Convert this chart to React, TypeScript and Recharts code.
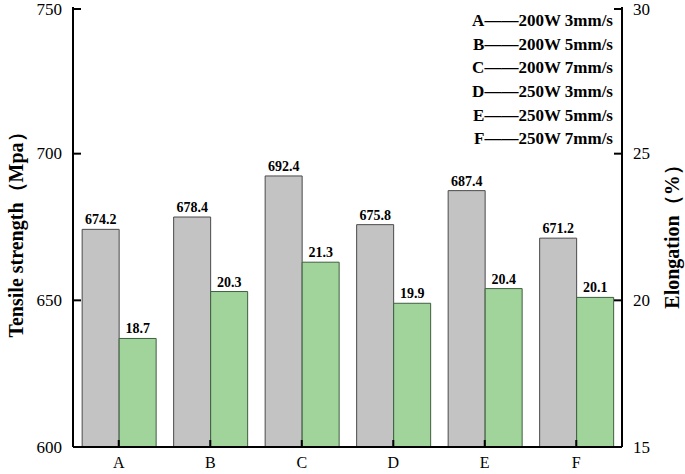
import React from "react";
import {
  BarChart,
  Bar,
  XAxis,
  YAxis,
  LabelList,
  Legend,
} from "recharts";

const categories = ["A", "B", "C", "D", "E", "F"];
const tensileStrength = [674.2, 678.4, 692.4, 675.8, 687.4, 671.2];
const elongation = [18.7, 20.3, 21.3, 19.9, 20.4, 20.1];
const leftTicks = [600, 650, 700, 750];
const rightTicks = [15, 20, 25, 30];
const legendLines = [
  "A——200W 3mm/s",
  "B——200W 5mm/s",
  "C——200W 7mm/s",
  "D——250W 3mm/s",
  "E——250W 5mm/s",
  "F——250W 7mm/s",
];

const data = categories.map((name, i) => ({
  name,
  tensile: tensileStrength[i],
  elong: elongation[i],
}));

const FONT = '"Liberation Serif", "Times New Roman", serif';
const GAP = 11; // label distance from the axis line
const TICK = 8; // inward tick length

// ticks are drawn inside the plot, so draw line + label ourselves
const LeftTick = (props: any) => {
  const { x, y, payload } = props;
  return (
    <g>
      <line x1={x + GAP} x2={x + GAP + TICK} y1={y} y2={y} stroke="#000" strokeWidth={2} />
      <text x={x} y={y} textAnchor="end" dominantBaseline="central" fontSize={17} fontFamily={FONT} fill="#000">
        {payload.value}
      </text>
    </g>
  );
};

const RightTick = (props: any) => {
  const { x, y, payload } = props;
  return (
    <g>
      <line x1={x - GAP} x2={x - GAP - TICK} y1={y} y2={y} stroke="#000" strokeWidth={2} />
      <text x={x} y={y} textAnchor="start" dominantBaseline="central" fontSize={17} fontFamily={FONT} fill="#000">
        {payload.value}
      </text>
    </g>
  );
};

const BottomTick = (props: any) => {
  const { x, y, payload } = props;
  return (
    <g>
      <line x1={x} x2={x} y1={y - 10} y2={y - 10 - 7} stroke="#000" strokeWidth={2} />
      <text x={x} y={y} textAnchor="middle" dominantBaseline="hanging" fontSize={16} fontFamily={FONT} fill="#000">
        {payload.value}
      </text>
    </g>
  );
};

const LegendText = () => (
  <div style={{ fontFamily: FONT, fontWeight: "bold", fontSize: 17, color: "#000", textAlign: "right" }}>
    {legendLines.map((l) => (
      <div key={l} style={{ height: 23.7, lineHeight: "23.7px", whiteSpace: "nowrap" }}>{l}</div>
    ))}
  </div>
);

export default function App() {
  return (
    <div style={{ position: "absolute", left: 0, top: 0, background: "#fff" }}>
      <BarChart
        width={685}
        height={474}
        data={data}
        margin={{ top: 7, right: 3, bottom: 0, left: 13 }}
        barCategoryGap="10%"
        barGap={0}
      >
        <XAxis
          dataKey="name"
          height={27}
          tick={<BottomTick />}
          tickSize={0}
          tickMargin={10}
          tickLine={false}
          axisLine={{ stroke: "#000", strokeWidth: 2 }}
        />
        <XAxis
          xAxisId="top"
          dataKey="name"
          orientation="top"
          height={0}
          tick={false}
          tickLine={false}
          axisLine={{ stroke: "#000", strokeWidth: 2 }}
        />
        <YAxis
          yAxisId="left"
          width={60}
          domain={[600, 750]}
          ticks={leftTicks}
          tick={<LeftTick />}
          tickSize={0}
          tickMargin={GAP}
          tickLine={false}
          axisLine={{ stroke: "#000", strokeWidth: 2 }}
          label={{
            content: () => (
              <text
                x={16}
                y={230}
                transform="rotate(-90 16 230)"
                textAnchor="middle"
                dominantBaseline="central"
                fontFamily={FONT}
                fontWeight="bold"
                fontSize={20}
                fill="#000"
              >
                Tensile strength（Mpa）
              </text>
            ),
          }}
        />
        <YAxis
          yAxisId="right"
          orientation="right"
          width={60}
          domain={[15, 30]}
          ticks={rightTicks}
          tick={<RightTick />}
          tickSize={0}
          tickMargin={GAP}
          tickLine={false}
          axisLine={{ stroke: "#000", strokeWidth: 2 }}
          label={{
            content: () => (
              <text
                x={672}
                y={232}
                transform="rotate(-90 672 232)"
                textAnchor="middle"
                dominantBaseline="central"
                fontFamily={FONT}
                fontWeight="bold"
                fontSize={20}
                fill="#000"
              >
                Elongation（%）
              </text>
            ),
          }}
        />
        <Legend
          layout="horizontal"
          verticalAlign="middle"
          align="center"
          content={<LegendText />}
          wrapperStyle={{ top: 9, left: "auto", right: 72, width: "auto" }}
        />
        <Bar
          yAxisId="left"
          dataKey="tensile"
          fill="#c3c3c3"
          stroke="#4a4a4a"
          strokeWidth={1}
          isAnimationActive={false}
        >
          <LabelList
            dataKey="tensile"
            position="top"
            offset={5}
            style={{ fontSize: 14, fontWeight: "bold", fill: "#000", fontFamily: FONT }}
          />
        </Bar>
        <Bar
          yAxisId="right"
          dataKey="elong"
          fill="#a0d49b"
          stroke="#3f5f3f"
          strokeWidth={1}
          isAnimationActive={false}
        >
          <LabelList
            dataKey="elong"
            position="top"
            offset={5}
            style={{ fontSize: 14, fontWeight: "bold", fill: "#000", fontFamily: FONT }}
          />
        </Bar>
      </BarChart>
    </div>
  );
}
